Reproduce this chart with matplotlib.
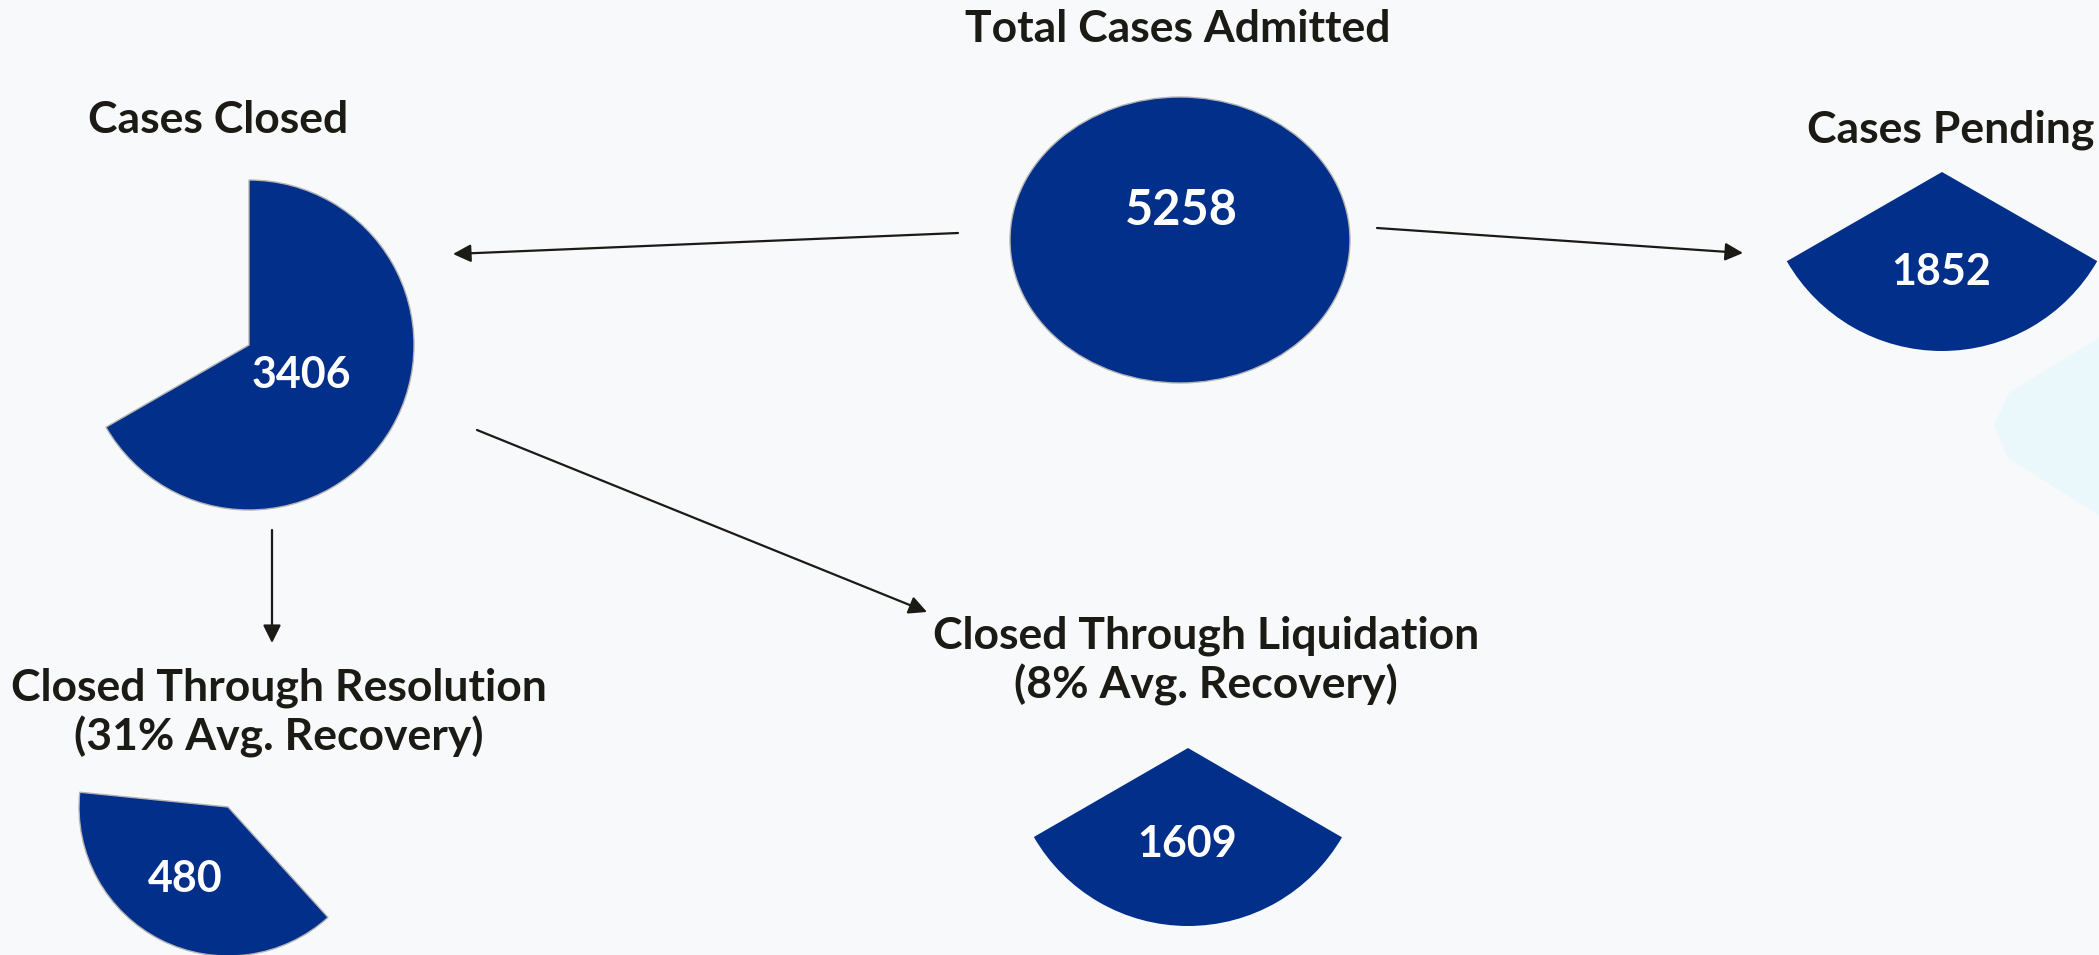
import matplotlib.pyplot as plt
from matplotlib.patches import Polygon

# values shown in the chart
stage_names = ["Total Cases Admitted", "Cases Closed", "Cases Pending",
               "Closed Through Resolution\n(31% Avg. Recovery)",
               "Closed Through Liquidation\n(8% Avg. Recovery)"]
case_counts = [5258, 3406, 1852, 480, 1609]
# part of a full circle each pie shows
wedge_share = [1.0, 0.667, 0.334, 0.383, 0.333]

NAVY = "#022f8a"
INK = "#1c1a14"
W, H = 2099, 955

# layout in pixels: pie centre, radii, start angle, direction
pie_pos = [(1180, 240, 170, 143), (249, 345, 165, 165), (1942, 172, 179, 179),
           (228, 807, 149, 149), (1188, 748, 178, 178)]
start_angles = [90, 90, 209.9, 174.3, 210.0]
clockwise = [False, True, False, False, False]
outlined = [True, True, False, True, False]
title_xy = [(1178, 42), (218, 133), (1951, 142), (279, 700), (1206, 648)]
number_xy = [(1181, 225), (301, 388), (1941, 285), (185, 892), (1187, 857)]
number_size = [35, 31, 31, 31, 31]

fig = plt.figure(figsize=(W / 100, H / 100), dpi=100)
fig.patch.set_facecolor("#f7f9fb")
ax = fig.add_axes([0, 0, 1, 1])
ax.set_xlim(0, W)
ax.set_ylim(H, 0)
ax.axis("off")

# faint cyan shape on the right edge of the background
ax.add_patch(Polygon([(2099, 338), (2010, 392), (1994, 425), (2008, 458), (2099, 515)],
                     closed=True, facecolor="#eaf7fb", edgecolor="none", zorder=0))

for i, name in enumerate(stage_names):
    cx, cy, rx, ry = pie_pos[i]
    pax = fig.add_axes([(cx - rx) / W, 1 - (cy + ry) / H, 2 * rx / W, 2 * ry / H])
    share = wedge_share[i]
    sizes = [share] if share >= 1 else [share, 1 - share]
    wedges, _ = pax.pie(sizes, colors=[NAVY, "white"], startangle=start_angles[i],
                        counterclock=not clockwise[i], radius=1)
    for j, w in enumerate(wedges):
        if j > 0:
            w.set_visible(False)
        elif outlined[i]:
            w.set_edgecolor("#b4b4b4")
            w.set_linewidth(1.0)
        else:
            w.set_linewidth(0)
    pax.set_aspect("auto")
    pax.set_xlim(-1, 1)
    pax.set_ylim(-1, 1)
    pax.axis("off")

    # title lines
    tx, ty = title_xy[i]
    for k, line in enumerate(name.split("\n")):
        ax.text(tx, ty + k * 50, line, ha="center", va="baseline", fontsize=32,
                fontweight="bold", family="Lato", color=INK)

    # count in white, drawn on the figure so it sits above the pie
    nx, ny = number_xy[i]
    fig.text(nx / W, 1 - ny / H, str(case_counts[i]), ha="center", va="baseline",
             fontsize=number_size[i], fontweight="bold", family="Lato",
             color="white", zorder=10)

arrows = [((958, 233), (453, 254)), ((1377, 228), (1743, 253)),
          ((272, 530), (272, 643)), ((477, 430), (927, 612))]
for start, tip in arrows:
    ax.annotate("", xy=tip, xytext=start,
                arrowprops=dict(arrowstyle="-|>,head_length=0.4,head_width=0.2",
                                color=INK, lw=1.6, mutation_scale=27,
                                shrinkA=0, shrinkB=0))

fig.savefig("out.png", dpi=100, facecolor=fig.get_facecolor())
